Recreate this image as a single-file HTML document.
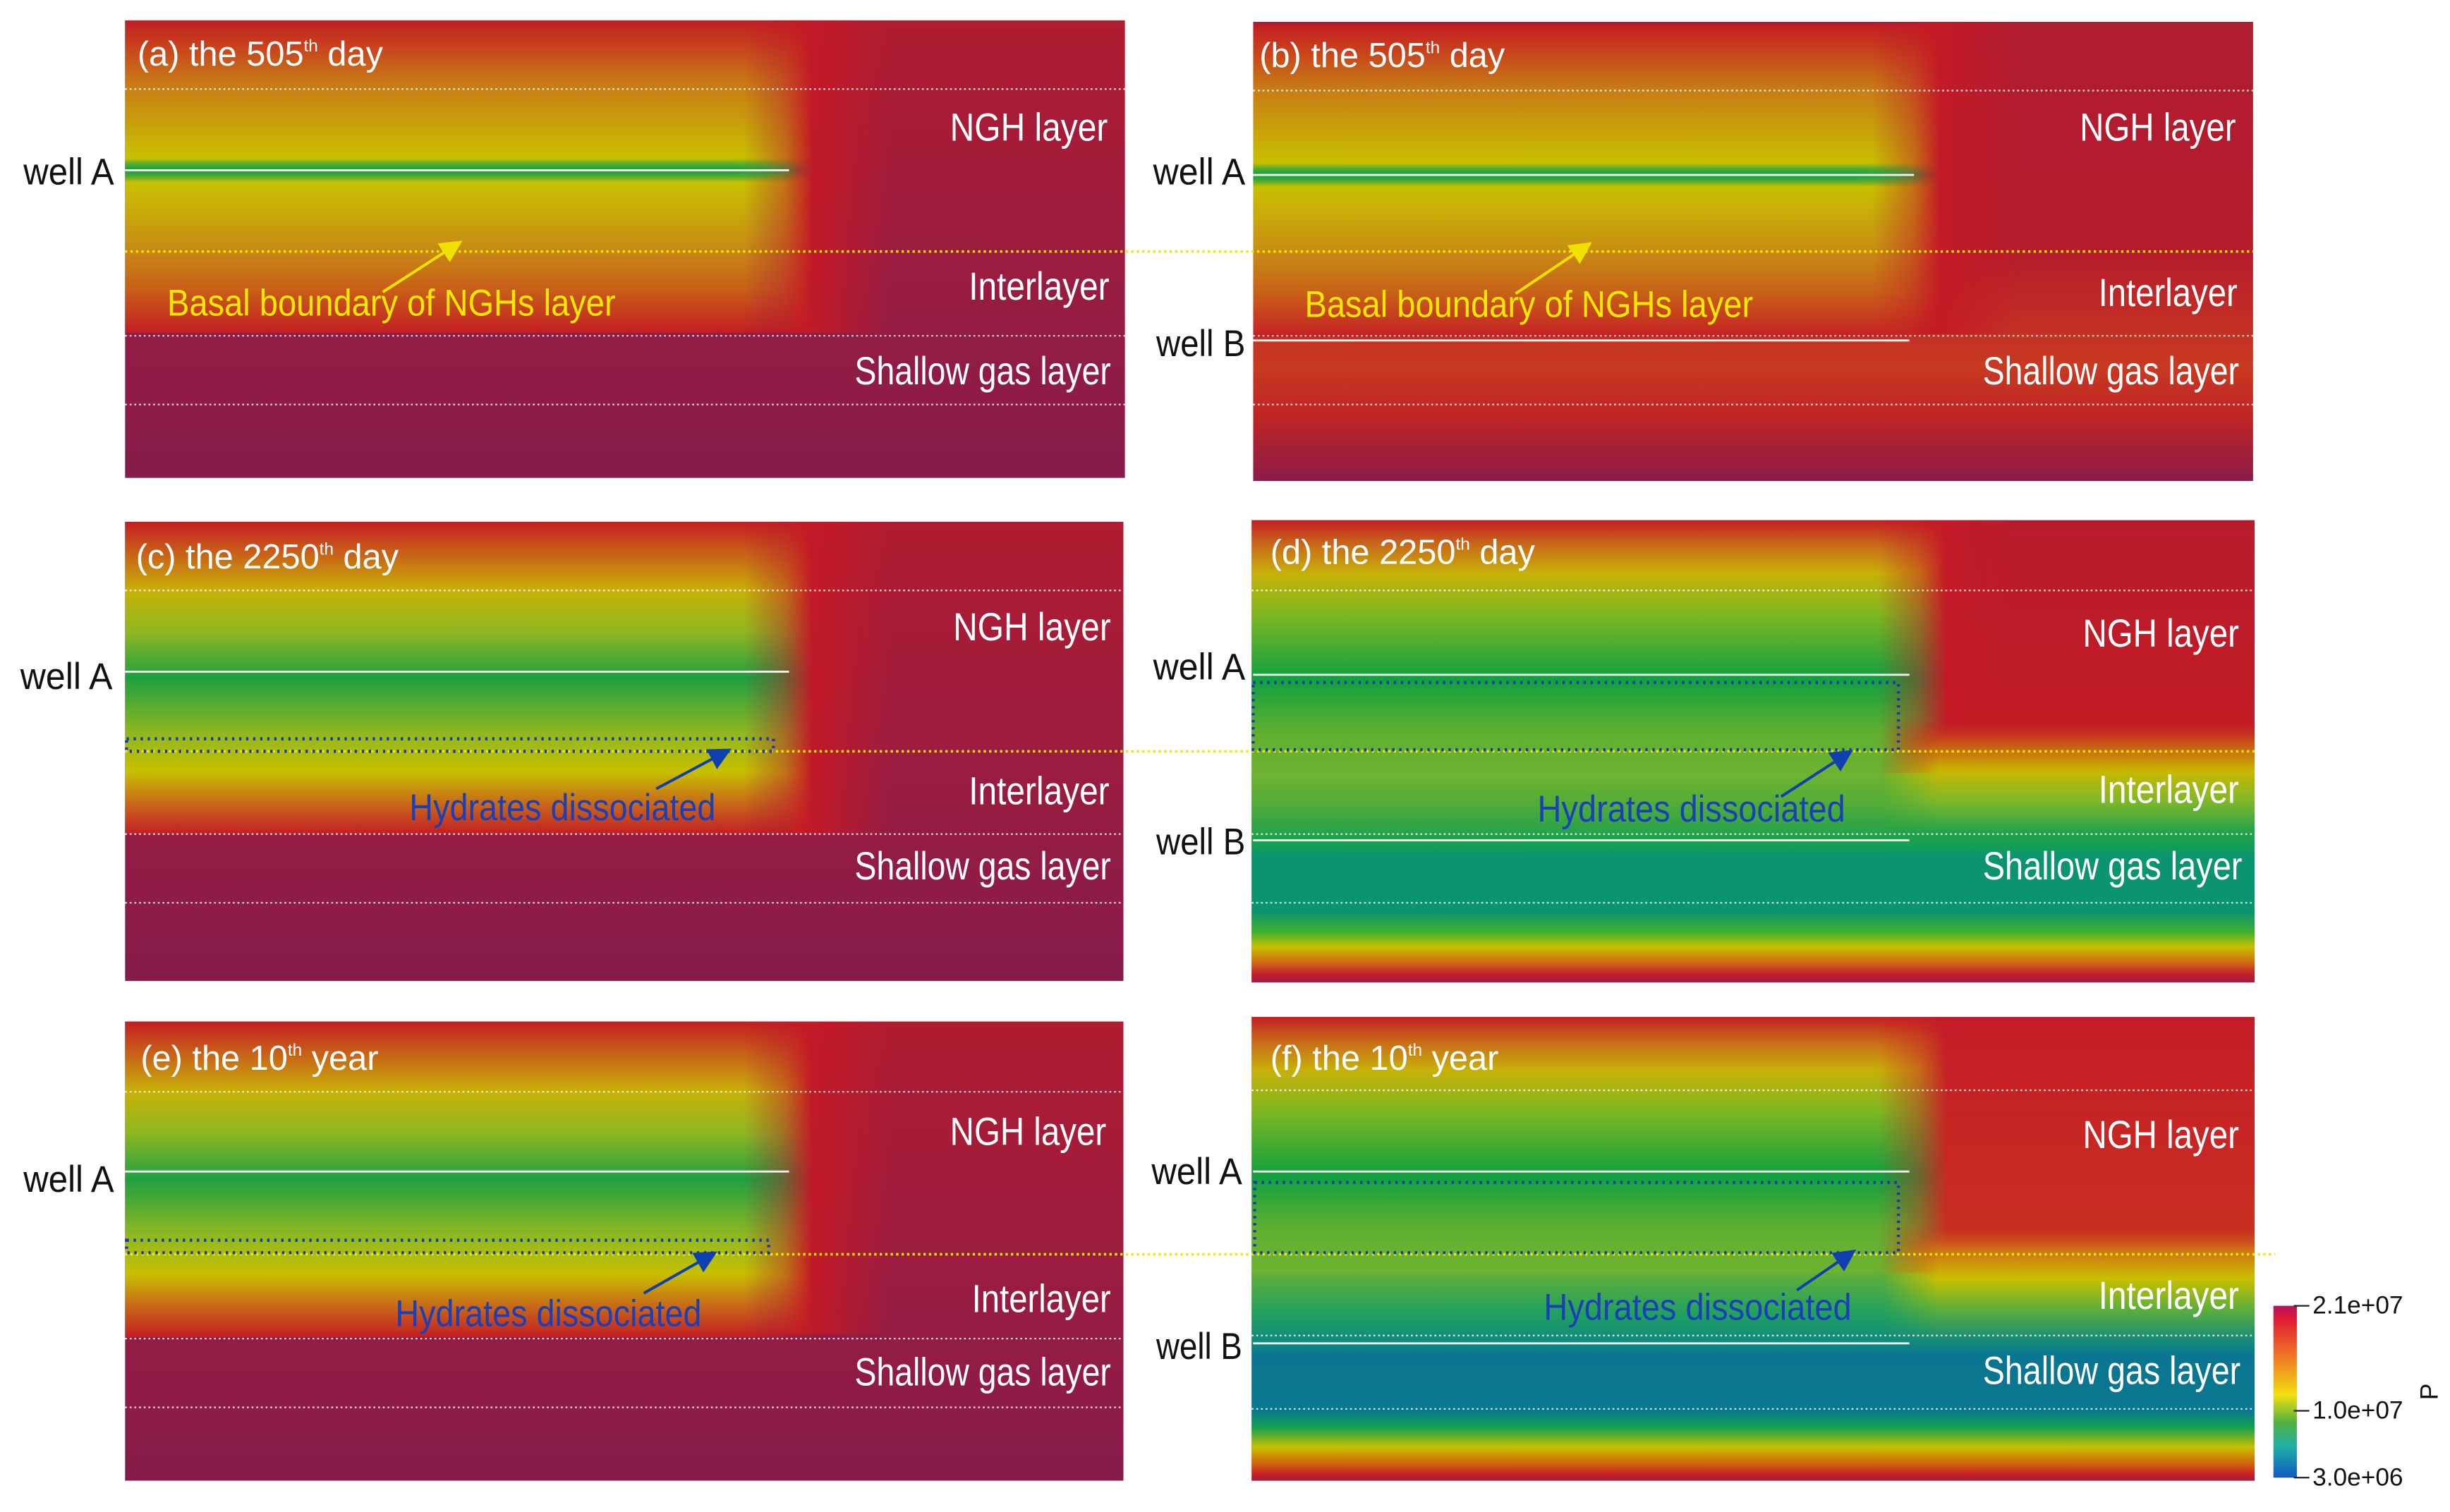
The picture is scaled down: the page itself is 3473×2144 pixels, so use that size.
<!DOCTYPE html>
<html><head><meta charset="utf-8"><style>
html,body{margin:0;padding:0;background:#fff;}
svg{display:block;}
text{font-family:"Liberation Sans Narrow","Liberation Sans",sans-serif;}
</style></head><body>
<svg id="fig" width="3473" height="2144" viewBox="0 0 1568 968" preserveAspectRatio="none" xmlns="http://www.w3.org/2000/svg">
<defs>
<clipPath id="ca"><rect x="80" y="13" width="640" height="293"/></clipPath>
<clipPath id="cb"><rect x="802" y="14" width="640" height="294"/></clipPath>
<clipPath id="cc"><rect x="80" y="334" width="639" height="294"/></clipPath>
<clipPath id="cd"><rect x="801" y="333" width="642" height="296"/></clipPath>
<clipPath id="ce"><rect x="80" y="654" width="639" height="294"/></clipPath>
<clipPath id="cf"><rect x="801" y="651" width="642" height="297"/></clipPath>
<linearGradient id="fadeH" x1="0" y1="0" x2="1" y2="0"><stop offset="0" stop-color="#fff"/><stop offset="0.9" stop-color="#fff"/><stop offset="0.96" stop-color="#888"/><stop offset="1" stop-color="#000"/></linearGradient>
<mask id="mL" maskContentUnits="objectBoundingBox"><rect x="0" y="0" width="1" height="1" fill="url(#fadeH)"/></mask>
<linearGradient id="fadeR" x1="0" y1="0" x2="1" y2="0"><stop offset="0" stop-color="#000"/><stop offset="0.15" stop-color="#fff"/><stop offset="1" stop-color="#fff"/></linearGradient>
<mask id="mR" maskContentUnits="objectBoundingBox"><rect x="0" y="0" width="1" height="1" fill="url(#fadeR)"/></mask>
<linearGradient id="haloH" x1="0" y1="0" x2="1" y2="0"><stop offset="0" stop-color="#c41a26" stop-opacity="0"/><stop offset="0.35" stop-color="#c41a26" stop-opacity="1"/><stop offset="0.55" stop-color="#c41a26" stop-opacity="0.8"/><stop offset="1" stop-color="#c41a26" stop-opacity="0"/></linearGradient>
<linearGradient id="wellG" x1="0" y1="0" x2="0" y2="1"><stop offset="0" stop-color="#20a040" stop-opacity="0"/><stop offset="0.5" stop-color="#20a040" stop-opacity="1"/><stop offset="1" stop-color="#20a040" stop-opacity="0"/></linearGradient>
<linearGradient id="bgA" x1="0" y1="0" x2="0" y2="1"><stop offset="0" stop-color="#b01c30"/><stop offset="0.5" stop-color="#9c1c40"/><stop offset="1" stop-color="#861c4a"/></linearGradient>
<linearGradient id="bgB" x1="0" y1="0" x2="0" y2="1"><stop offset="0" stop-color="#b01c30"/><stop offset="0.5" stop-color="#b41c2c"/><stop offset="0.62" stop-color="#c02a26"/><stop offset="0.75" stop-color="#c83a22"/><stop offset="0.86" stop-color="#c02424"/><stop offset="1" stop-color="#8a1c48"/></linearGradient>
<linearGradient id="plA" x1="0" y1="0" x2="0" y2="1"><stop offset="0" stop-color="#c41e22"/><stop offset="0.08" stop-color="#c8401c"/><stop offset="0.2" stop-color="#c87a16"/><stop offset="0.36" stop-color="#c8a808"/><stop offset="0.44" stop-color="#c8c000"/><stop offset="0.48" stop-color="#30a840"/><stop offset="0.52" stop-color="#c8c000"/><stop offset="0.7" stop-color="#c89412"/><stop offset="0.86" stop-color="#c86018"/><stop offset="1" stop-color="#c41e24"/></linearGradient>
<linearGradient id="plC" x1="0" y1="0" x2="0" y2="1"><stop offset="0" stop-color="#c41e22"/><stop offset="0.1" stop-color="#c86018"/><stop offset="0.22" stop-color="#c8b008"/><stop offset="0.35" stop-color="#90b820"/><stop offset="0.5" stop-color="#20a040"/><stop offset="0.68" stop-color="#90b820"/><stop offset="0.8" stop-color="#c8c000"/><stop offset="0.9" stop-color="#c86a18"/><stop offset="1" stop-color="#c41e24"/></linearGradient>
<linearGradient id="plD" x1="0" y1="0" x2="0" y2="1"><stop offset="0" stop-color="#c41e22"/><stop offset="0.1" stop-color="#c87018"/><stop offset="0.2" stop-color="#c8b008"/><stop offset="0.35" stop-color="#80b820"/><stop offset="0.6" stop-color="#10a040"/><stop offset="0.8" stop-color="#60b030"/><stop offset="1" stop-color="#70b430"/></linearGradient>
<linearGradient id="loD" x1="0" y1="0" x2="0" y2="1"><stop offset="0" stop-color="#70b430"/><stop offset="0.15" stop-color="#50ac38"/><stop offset="0.33" stop-color="#18a050"/><stop offset="0.4" stop-color="#0a9470"/><stop offset="0.66" stop-color="#0a9470"/><stop offset="0.76" stop-color="#40b030"/><stop offset="0.83" stop-color="#c8c000"/><stop offset="0.9" stop-color="#d07010"/><stop offset="0.96" stop-color="#c01e2c"/><stop offset="1" stop-color="#a01c40"/></linearGradient>
<linearGradient id="loF" x1="0" y1="0" x2="0" y2="1"><stop offset="0" stop-color="#60b038"/><stop offset="0.2" stop-color="#20a060"/><stop offset="0.34" stop-color="#108880"/><stop offset="0.4" stop-color="#0a7590"/><stop offset="0.66" stop-color="#0a7890"/><stop offset="0.74" stop-color="#10a050"/><stop offset="0.84" stop-color="#c8c000"/><stop offset="0.92" stop-color="#d06010"/><stop offset="0.97" stop-color="#c81e28"/><stop offset="1" stop-color="#a01c40"/></linearGradient>
<linearGradient id="rD" x1="0" y1="0" x2="0" y2="1"><stop offset="0" stop-color="#b81c2c"/><stop offset="0.5" stop-color="#c41c24"/><stop offset="1" stop-color="#c41c24"/></linearGradient>
<linearGradient id="jD" x1="0" y1="0" x2="0" y2="1"><stop offset="0" stop-color="#c41c24" stop-opacity="0"/><stop offset="0.2" stop-color="#c85018"/><stop offset="0.45" stop-color="#c8b800"/><stop offset="0.7" stop-color="#80b828"/><stop offset="1" stop-color="#18a050"/></linearGradient>
<linearGradient id="rF" x1="0" y1="0" x2="0" y2="1"><stop offset="0" stop-color="#c41c28"/><stop offset="0.35" stop-color="#c82a22"/><stop offset="0.7" stop-color="#c83a20"/><stop offset="1" stop-color="#c84020"/></linearGradient>
<linearGradient id="jF" x1="0" y1="0" x2="0" y2="1"><stop offset="0" stop-color="#c84020" stop-opacity="0"/><stop offset="0.2" stop-color="#d07014"/><stop offset="0.45" stop-color="#c8c000"/><stop offset="0.7" stop-color="#60b038"/><stop offset="1" stop-color="#108880"/></linearGradient>
<linearGradient id="cbar" x1="0" y1="0" x2="0" y2="1"><stop offset="0" stop-color="#b8105e"/><stop offset="0.08" stop-color="#e01c34"/><stop offset="0.3" stop-color="#f07a24"/><stop offset="0.52" stop-color="#f0e010"/><stop offset="0.68" stop-color="#50b040"/><stop offset="0.82" stop-color="#20b0a8"/><stop offset="1" stop-color="#1058c0"/></linearGradient>
<marker id="ay" markerWidth="8" markerHeight="8" refX="6" refY="4" orient="auto"><path d="M0,0 L8,4 L0,8 z" fill="#f0e000"/></marker>
<marker id="ab" markerWidth="8" markerHeight="8" refX="6" refY="4" orient="auto"><path d="M0,0 L8,4 L0,8 z" fill="#1040b0"/></marker>
</defs>

<!-- Panel a -->
<g clip-path="url(#ca)">
<rect x="80" y="13" width="640" height="293" fill="url(#bgA)"/>
<rect x="480" y="13" width="90" height="200" fill="url(#haloH)"/>
<rect x="80" y="13" width="440" height="200" fill="url(#plA)" mask="url(#mL)"/>
<rect x="80" y="102" width="430" height="14" fill="url(#wellG)" mask="url(#mL)"/>
</g>
<!-- Panel b -->
<g clip-path="url(#cb)">
<rect x="802" y="14" width="640" height="294" fill="url(#bgB)"/>
<rect x="1202" y="14" width="90" height="200" fill="url(#haloH)"/>
<rect x="802" y="16" width="440" height="200" fill="url(#plA)" mask="url(#mL)"/>
<rect x="802" y="105" width="430" height="14" fill="url(#wellG)" mask="url(#mL)"/>
</g>
<!-- Panel c -->
<g clip-path="url(#cc)">
<rect x="80" y="334" width="639" height="294" fill="url(#bgA)"/>
<rect x="480" y="334" width="90" height="200" fill="url(#haloH)"/>
<rect x="80" y="334" width="440" height="200" fill="url(#plC)" mask="url(#mL)"/>
</g>
<!-- Panel d -->
<g clip-path="url(#cd)">
<rect x="801" y="333" width="642" height="296" fill="url(#rD)"/>
<rect x="1205" y="333" width="80" height="170" fill="url(#haloH)"/>
<rect x="801" y="333" width="445" height="170" fill="url(#plD)" mask="url(#mL)"/>
<rect x="801" y="495" width="642" height="134" fill="url(#loD)"/>
<rect x="1205" y="460" width="238" height="75" fill="url(#jD)" mask="url(#mR)"/>
</g>
<!-- Panel e -->
<g clip-path="url(#ce)">
<rect x="80" y="654" width="639" height="294" fill="url(#bgA)"/>
<rect x="480" y="654" width="90" height="200" fill="url(#haloH)"/>
<rect x="80" y="654" width="440" height="202" fill="url(#plC)" mask="url(#mL)"/>
</g>
<!-- Panel f -->
<g clip-path="url(#cf)">
<rect x="801" y="651" width="642" height="297" fill="url(#rF)"/>
<rect x="801" y="651" width="445" height="170" fill="url(#plD)" mask="url(#mL)"/>
<rect x="801" y="815" width="642" height="133" fill="url(#loF)"/>
<rect x="1205" y="785" width="238" height="75" fill="url(#jF)" mask="url(#mR)"/>
</g>

<!-- layer boundaries -->
<g stroke="#fff" stroke-width="1" stroke-dasharray="1.2 1.8" opacity="0.85">
<line x1="80" y1="57" x2="720" y2="57"/><line x1="80" y1="215" x2="720" y2="215"/><line x1="80" y1="259" x2="720" y2="259"/>
<line x1="802" y1="58" x2="1442" y2="58"/><line x1="802" y1="215" x2="1442" y2="215"/><line x1="802" y1="259" x2="1442" y2="259"/>
<line x1="80" y1="378" x2="719" y2="378"/><line x1="80" y1="534" x2="719" y2="534"/><line x1="80" y1="578" x2="719" y2="578"/>
<line x1="801" y1="378" x2="1443" y2="378"/><line x1="801" y1="534" x2="1443" y2="534"/><line x1="801" y1="578" x2="1443" y2="578"/>
<line x1="80" y1="699" x2="719" y2="699"/><line x1="80" y1="857" x2="719" y2="857"/><line x1="80" y1="901" x2="719" y2="901"/>
<line x1="801" y1="698" x2="1443" y2="698"/><line x1="801" y1="855" x2="1443" y2="855"/><line x1="801" y1="902" x2="1443" y2="902"/>
</g>
<g stroke="#f4e800" stroke-width="1.6" stroke-dasharray="1.5 2">
<line x1="80" y1="161" x2="1442" y2="161"/><line x1="80" y1="481" x2="1443" y2="481"/><line x1="80" y1="803" x2="1456" y2="803"/>
</g>
<!-- wells -->
<g stroke="#f0f0f0" stroke-width="1.3">
<line x1="80" y1="109" x2="505" y2="109"/><line x1="802" y1="112" x2="1225" y2="112"/><line x1="802" y1="218" x2="1222" y2="218"/>
<line x1="80" y1="430" x2="505" y2="430"/><line x1="802" y1="432" x2="1222" y2="432"/><line x1="802" y1="538" x2="1222" y2="538"/>
<line x1="80" y1="750" x2="505" y2="750"/><line x1="802" y1="750" x2="1222" y2="750"/><line x1="802" y1="860" x2="1222" y2="860"/>
</g>
<!-- hydrate zones -->
<g fill="none" stroke="#1838b0" stroke-width="2" stroke-dasharray="1.5 3">
<rect x="81" y="473" width="414" height="8"/><rect x="802" y="437" width="413" height="43"/>
<rect x="81" y="794" width="411" height="8"/><rect x="803" y="757" width="412" height="45"/>
</g>
<!-- arrows -->
<g stroke-width="1.8">
<line x1="245" y1="187" x2="293" y2="156" stroke="#f0e000" marker-end="url(#ay)"/>
<line x1="970" y1="188" x2="1016" y2="157" stroke="#f0e000" marker-end="url(#ay)"/>
<line x1="420" y1="505" x2="465" y2="481" stroke="#1040b0" marker-end="url(#ab)"/>
<line x1="1140" y1="510" x2="1183" y2="482" stroke="#1040b0" marker-end="url(#ab)"/>
<line x1="412" y1="828" x2="456" y2="803" stroke="#1040b0" marker-end="url(#ab)"/>
<line x1="1150" y1="826" x2="1185" y2="802" stroke="#1040b0" marker-end="url(#ab)"/>
</g>

<!-- titles -->
<g fill="#fff" font-size="22">
<text x="88" y="42">(a) the 505<tspan font-size="11" dy="-9">th</tspan><tspan dy="9"> day</tspan></text>
<text x="806" y="43">(b) the 505<tspan font-size="11" dy="-9">th</tspan><tspan dy="9"> day</tspan></text>
<text x="87" y="364">(c) the 2250<tspan font-size="11" dy="-9">th</tspan><tspan dy="9"> day</tspan></text>
<text x="813" y="361">(d)  the 2250<tspan font-size="11" dy="-9">th</tspan><tspan dy="9"> day</tspan></text>
<text x="90" y="685">(e) the 10<tspan font-size="11" dy="-9">th</tspan><tspan dy="9"> year</tspan></text>
<text x="813" y="685">(f) the 10<tspan font-size="11" dy="-9">th</tspan><tspan dy="9"> year</tspan></text>
</g>
<!-- layer labels -->
<g fill="#fff" font-size="25">
<text x="608" y="90" textLength="101" lengthAdjust="spacingAndGlyphs">NGH layer</text>
<text x="620" y="192" textLength="90" lengthAdjust="spacingAndGlyphs">Interlayer</text>
<text x="547" y="246" textLength="164" lengthAdjust="spacingAndGlyphs">Shallow gas layer</text>
<text x="1331" y="90" textLength="100" lengthAdjust="spacingAndGlyphs">NGH layer</text>
<text x="1343" y="196" textLength="89" lengthAdjust="spacingAndGlyphs">Interlayer</text>
<text x="1269" y="246" textLength="164" lengthAdjust="spacingAndGlyphs">Shallow gas layer</text>
<text x="610" y="410" textLength="101" lengthAdjust="spacingAndGlyphs">NGH layer</text>
<text x="620" y="515" textLength="90" lengthAdjust="spacingAndGlyphs">Interlayer</text>
<text x="547" y="563" textLength="164" lengthAdjust="spacingAndGlyphs">Shallow gas layer</text>
<text x="1333" y="414" textLength="100" lengthAdjust="spacingAndGlyphs">NGH layer</text>
<text x="1343" y="514" textLength="90" lengthAdjust="spacingAndGlyphs">Interlayer</text>
<text x="1269" y="563" textLength="166" lengthAdjust="spacingAndGlyphs">Shallow gas layer</text>
<text x="608" y="733" textLength="100" lengthAdjust="spacingAndGlyphs">NGH layer</text>
<text x="622" y="840" textLength="89" lengthAdjust="spacingAndGlyphs">Interlayer</text>
<text x="547" y="887" textLength="164" lengthAdjust="spacingAndGlyphs">Shallow gas layer</text>
<text x="1333" y="735" textLength="100" lengthAdjust="spacingAndGlyphs">NGH layer</text>
<text x="1343" y="838" textLength="90" lengthAdjust="spacingAndGlyphs">Interlayer</text>
<text x="1269" y="886" textLength="165" lengthAdjust="spacingAndGlyphs">Shallow gas layer</text>
</g>
<!-- well labels -->
<g fill="#111" font-size="24">
<text x="15" y="118" textLength="58" lengthAdjust="spacingAndGlyphs">well A</text>
<text x="738" y="118" textLength="59" lengthAdjust="spacingAndGlyphs">well A</text>
<text x="740" y="228" textLength="57" lengthAdjust="spacingAndGlyphs">well B</text>
<text x="13" y="441" textLength="59" lengthAdjust="spacingAndGlyphs">well A</text>
<text x="738" y="435" textLength="59" lengthAdjust="spacingAndGlyphs">well A</text>
<text x="740" y="547" textLength="57" lengthAdjust="spacingAndGlyphs">well B</text>
<text x="15" y="763" textLength="58" lengthAdjust="spacingAndGlyphs">well A</text>
<text x="737" y="758" textLength="58" lengthAdjust="spacingAndGlyphs">well A</text>
<text x="740" y="870" textLength="55" lengthAdjust="spacingAndGlyphs">well B</text>
</g>
<!-- annotations -->
<g font-size="24">
<text fill="#f4e800" x="107" y="202" textLength="287" lengthAdjust="spacingAndGlyphs">Basal boundary of NGHs layer</text>
<text fill="#f4e800" x="835" y="203" textLength="287" lengthAdjust="spacingAndGlyphs">Basal boundary of NGHs layer</text>
<text fill="#1a40b8" x="262" y="525" textLength="196" lengthAdjust="spacingAndGlyphs">Hydrates dissociated</text>
<text fill="#1a40b8" x="984" y="526" textLength="197" lengthAdjust="spacingAndGlyphs">Hydrates dissociated</text>
<text fill="#1a40b8" x="253" y="849" textLength="196" lengthAdjust="spacingAndGlyphs">Hydrates dissociated</text>
<text fill="#1a40b8" x="988" y="845" textLength="197" lengthAdjust="spacingAndGlyphs">Hydrates dissociated</text>
</g>
<!-- colorbar -->
<g id="colorbar">
<rect x="1455" y="836" width="15" height="110" fill="url(#cbar)"/>
<text x="1560" y="891" font-size="16" fill="#111" transform="rotate(-90 1560 891)" text-anchor="middle">P</text>
</g>
</svg>
<script>
const cbTickValues = [2.1e7, 1.0e7, 3.0e6];
const cbTickLabels = ["2.1e+07", "1.0e+07", "3.0e+06"];
const cbMin = 3.0e6, cbMax = 2.1e7;
(function(){
  const ns = "http://www.w3.org/2000/svg";
  const g = document.getElementById("colorbar");
  const y0 = 836, y1 = 946;
  function yScale(v){ return y0 + (cbMax - v) / (cbMax - cbMin) * (y1 - y0); }
  cbTickValues.forEach(function(v, i){
    const y = yScale(v);
    const t = document.createElementNS(ns, "line");
    t.setAttribute("x1", 1468); t.setAttribute("x2", 1478);
    t.setAttribute("y1", y); t.setAttribute("y2", y);
    t.setAttribute("stroke", "#222"); t.setAttribute("stroke-width", "1");
    
    
    g.appendChild(t);
    const tx = document.createElementNS(ns, "text");
    tx.setAttribute("x", 1480); tx.setAttribute("y", y + 5);
    tx.setAttribute("font-size", "16"); tx.setAttribute("fill", "#111");
    tx.setAttribute("textLength", "58"); tx.setAttribute("lengthAdjust", "spacingAndGlyphs");
    tx.textContent = cbTickLabels[i];
    
    
    g.appendChild(tx);
  });
})();
</script>
</body></html>
